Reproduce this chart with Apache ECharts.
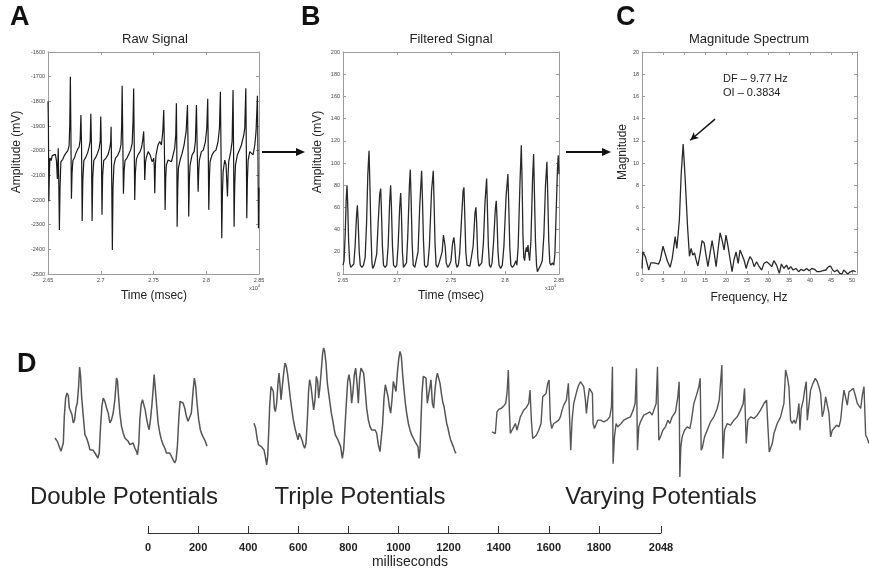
<!DOCTYPE html>
<html><head><meta charset="utf-8">
<script src="https://cdn.jsdelivr.net/npm/echarts@6/dist/echarts.min.js"></script>
<style>html,body{margin:0;padding:0;background:#fff}#c{width:869px;height:573px}</style>
</head><body><div id="c"></div>
<script>
// ---- Panel A: raw signal [time ms, amplitude mV]
const rawSignal = [[26500,-1800],[26504,-1900],[26508,-2205],[26513,-2090],[26518,-2030],[26530,-2040],[26540,-2020],[26555,-2025],[26570,-2015],[26580,-2040],[26589,-2115],[26597,-1990],[26603,-2150],[26608,-2322],[26614,-2150],[26622,-2045],[26640,-2035],[26655,-2020],[26670,-2010],[26688,-2000],[26700,-1980],[26706,-1900],[26712,-1700],[26717,-1920],[26722,-2195],[26728,-2090],[26736,-2040],[26750,-2030],[26765,-2010],[26780,-1995],[26795,-1985],[26805,-1955],[26812,-1855],[26818,-1980],[26824,-2285],[26830,-2120],[26840,-2040],[26860,-2025],[26875,-2010],[26890,-1985],[26900,-1960],[26906,-1850],[26912,-1980],[26918,-2285],[26924,-2110],[26934,-2040],[26955,-2025],[26970,-2010],[26985,-1990],[26995,-1960],[27000,-1862],[27006,-1990],[27012,-2260],[27018,-2100],[27028,-2040],[27050,-2030],[27070,-2015],[27085,-1990],[27094,-1965],[27098,-1903],[27104,-2120],[27110,-2403],[27116,-2150],[27125,-2060],[27140,-2030],[27160,-2020],[27180,-2000],[27192,-1975],[27198,-1900],[27203,-1737],[27209,-1960],[27215,-2175],[27222,-2080],[27230,-2040],[27248,-2030],[27265,-2015],[27285,-1995],[27298,-1970],[27306,-1880],[27312,-1748],[27317,-1960],[27322,-2200],[27328,-2090],[27338,-2035],[27355,-2015],[27372,-2005],[27388,-1985],[27400,-1950],[27407,-1922],[27412,-2000],[27417,-2119],[27424,-2050],[27430,-2031],[27449,-2004],[27468,-2017],[27487,-2045],[27502,-2031],[27507,-2060],[27512,-2173],[27518,-2060],[27524,-2017],[27543,-1977],[27559,-1963],[27575,-1977],[27588,-1923],[27597,-1835],[27603,-1980],[27610,-2240],[27616,-2110],[27622,-2058],[27638,-2038],[27654,-2038],[27670,-2045],[27686,-2017],[27701,-1990],[27711,-1936],[27717,-1808],[27721,-2000],[27724,-2308],[27730,-2150],[27736,-2071],[27752,-2038],[27771,-2011],[27790,-1977],[27809,-1923],[27822,-1815],[27828,-2000],[27834,-2267],[27840,-2120],[27847,-2058],[27866,-2017],[27885,-2004],[27897,-1963],[27907,-1815],[27914,-1990],[27923,-2166],[27929,-2080],[27935,-2038],[27954,-2004],[27973,-1997],[27992,-1963],[28005,-1909],[28014,-1790],[28019,-2000],[28024,-2240],[28030,-2110],[28036,-2045],[28055,-2017],[28074,-2004],[28093,-1997],[28112,-1963],[28125,-1909],[28134,-1761],[28140,-2000],[28147,-2355],[28153,-2180],[28160,-2085],[28175,-2038],[28188,-2058],[28194,-2120],[28201,-2186],[28207,-2100],[28213,-2045],[28232,-2004],[28245,-1963],[28254,-1754],[28259,-2000],[28264,-2308],[28270,-2140],[28277,-2058],[28295,-2017],[28315,-1997],[28333,-1977],[28356,-1936],[28365,-1909],[28375,-1747],[28380,-2000],[28384,-2274],[28390,-2120],[28397,-2038],[28413,-2004],[28428,-2011],[28444,-2017],[28460,-1977],[28472,-1923],[28485,-1777],[28490,-2000],[28495,-2315],[28500,-2150]];

// ---- Panel B: filtered signal [time ms, amplitude mV]
const filteredSignal = [[26500,8],[26510,12],[26520,35],[26530,68],[26537,80],[26543,65],[26552,30],[26562,10],[26572,6],[26590,6],[26600,9],[26612,25],[26625,52],[26633,62],[26640,48],[26650,20],[26660,8],[26675,6],[26690,8],[26705,15],[26718,45],[26730,90],[26741,111],[26748,85],[26758,40],[26768,10],[26775,5],[26790,8],[26800,9],[26812,18],[26825,45],[26840,72],[26849,77],[26855,60],[26865,25],[26875,8],[26890,6],[26905,8],[26918,25],[26932,65],[26941,80],[26948,62],[26958,25],[26968,8],[26985,6],[26998,8],[27010,25],[27025,60],[27034,73],[27040,58],[27050,20],[27060,6],[27075,6],[27088,10],[27100,35],[27115,80],[27123,94],[27130,70],[27140,28],[27150,8],[27165,6],[27180,7],[27195,20],[27210,60],[27228,93],[27235,70],[27245,30],[27255,8],[27270,6],[27285,8],[27300,25],[27320,75],[27336,93],[27342,70],[27352,28],[27362,8],[27375,6],[27390,10],[27405,9],[27418,20],[27430,35],[27438,36],[27446,25],[27456,10],[27470,6],[27485,8],[27500,12],[27515,28],[27527,33],[27535,25],[27545,10],[27555,6],[27568,8],[27580,18],[27595,45],[27612,75],[27620,78],[27627,55],[27637,20],[27648,8],[27660,7],[27675,7],[27690,8],[27705,25],[27722,55],[27731,60],[27738,45],[27748,15],[27758,7],[27770,6],[27785,10],[27800,28],[27815,65],[27830,86],[27837,60],[27846,25],[27856,8],[27868,6],[27880,10],[27895,30],[27910,58],[27919,66],[27926,50],[27935,20],[27945,8],[27960,5],[27975,8],[27990,25],[28010,70],[28027,90],[28034,65],[28044,25],[28054,8],[28068,6],[28085,8],[28100,12],[28110,8],[28122,25],[28138,80],[28151,116],[28158,85],[28166,35],[28174,15],[28182,12],[28190,20],[28198,24],[28205,20],[28213,26],[28220,18],[28228,12],[28240,30],[28255,85],[28265,108],[28272,75],[28282,30],[28292,8],[28300,2],[28315,5],[28330,8],[28345,12],[28360,35],[28375,80],[28388,101],[28395,75],[28405,30],[28415,10],[28425,8],[28440,10],[28452,8],[28462,18],[28475,60],[28486,95],[28493,107],[28500,90]];

// ---- Panel C: magnitude spectrum [frequency Hz, magnitude]
const spectrum = [[0,0.5],[0.2,2.0],[0.8,1.56],[1.6,0.36],[2.1,1.0],[2.8,1.0],[3.4,0.96],[3.95,0.9],[4.35,1.26],[5.0,2.5],[5.5,1.86],[6.1,1.1],[6.7,0.6],[7.2,1.4],[7.9,3.36],[8.3,2.3],[8.9,4.86],[9.34,9.06],[9.8,11.7],[10.3,8.46],[10.85,4.26],[11.3,1.6],[11.7,2.3],[12.1,1.7],[12.5,1.9],[12.9,1.26],[13.3,0.72],[13.85,1.86],[14.3,3.0],[14.8,2.8],[15.3,1.56],[15.7,0.66],[16.2,1.86],[16.7,3.0],[17.2,1.86],[17.65,0.66],[18.1,2.16],[18.6,3.7],[19.1,3.0],[19.55,2.16],[20.0,3.5],[20.5,2.46],[21.0,1.26],[21.45,0.21],[21.9,1.26],[22.4,2.0],[22.9,0.96],[23.35,2.16],[23.8,2.0],[24.3,1.26],[24.8,0.5],[25.25,1.1],[25.7,1.56],[26.2,1.3],[26.7,0.66],[27.3,1.1],[27.9,0.66],[28.5,0.36],[29.05,0.96],[29.7,1.1],[30.3,0.9],[30.9,0.66],[31.4,1.2],[32.05,0.8],[32.7,0.06],[33.2,0.9],[33.8,0.5],[34.4,0.8],[34.9,0.42],[35.4,0.66],[36.0,0.36],[36.65,0.5],[37.3,0.21],[37.9,0.42],[38.55,0.3],[39.2,0.5],[39.8,0.3],[40.45,0.5],[41.1,0.42],[41.7,0.21],[42.35,0.21],[43.1,0.3],[43.8,0.36],[44.4,0.66],[44.9,0.72],[45.4,0.36],[45.9,0.21],[46.5,0.36],[47.1,0.06],[47.6,0.0],[48.05,0.36],[48.5,0.2],[49.0,0.0],[49.6,0.2],[50.3,0.3],[50.9,0.2]];
const dfText = 'DF – 9.77 Hz';
const oiText = 'OI – 0.3834';

// ---- Panel D traces [sample, amplitude mV]
const doublePot = [[0,1.25],[7,1.15],[13,1.10],[18,0.85],[21,0.82],[25,1.10],[28,1.90],[32,2.45],[36,2.60],[40,2.52],[43,2.15],[47,2.05],[51,1.95],[55,1.70],[59,1.80],[63,2.15],[67,2.30],[71,2.80],[74,3.38],[77,3.10],[80,2.50],[85,1.90],[90,1.35],[95,1.25],[100,1.10],[105,0.90],[110,0.85],[115,0.88],[120,0.80],[125,0.75],[129,0.65],[133,0.80],[137,1.60],[141,2.20],[145,2.45],[150,2.35],[155,2.15],[160,2.00],[165,1.70],[170,1.80],[175,2.00],[180,2.40],[185,3.05],[188,2.95],[191,2.50],[195,2.00],[200,1.60],[205,1.40],[210,1.25],[215,1.20],[220,1.15],[225,1.05],[230,1.00],[235,1.10],[240,0.95],[245,0.85],[248,0.75],[252,1.10],[255,1.80],[259,2.25],[263,2.40],[267,2.35],[271,2.10],[275,1.85],[280,1.60],[283,1.50],[287,1.80],[291,2.20],[295,2.70],[298,3.15],[301,2.80],[305,2.30],[310,1.70],[315,1.40],[320,1.20],[325,1.05],[330,0.95],[335,0.80],[340,0.75],[345,0.80],[350,0.75],[355,0.60],[360,0.50],[364,0.60],[368,1.00],[372,1.80],[376,2.35],[380,2.40],[385,2.30],[390,2.15],[395,1.90],[400,1.75],[405,1.70],[410,2.00],[415,2.65],[419,3.05],[423,2.80],[427,2.30],[432,1.80],[437,1.50],[442,1.35],[447,1.25],[452,1.15],[457,1.00]];
const triplePot = [[0,1.70],[5,1.55],[10,1.20],[14,1.05],[18,1.10],[22,1.00],[26,0.95],[30,0.90],[34,0.70],[38,0.45],[41,0.70],[44,1.40],[47,2.20],[51,2.80],[55,2.85],[58,2.65],[61,2.15],[64,2.05],[68,2.30],[72,2.90],[75,3.20],[78,2.85],[81,2.40],[85,2.80],[89,3.20],[93,3.50],[97,3.40],[101,3.15],[105,2.80],[109,2.45],[113,2.15],[118,1.80],[123,1.55],[128,1.35],[132,1.20],[136,1.40],[140,1.35],[144,1.20],[148,1.05],[152,0.95],[156,1.10],[160,1.80],[164,2.70],[167,3.00],[171,2.80],[175,2.45],[179,2.10],[183,2.40],[187,3.10],[191,2.95],[194,2.45],[198,2.80],[202,3.30],[206,3.80],[209,3.95],[212,3.85],[216,3.50],[220,2.90],[224,2.60],[228,2.30],[232,2.00],[236,1.80],[240,1.55],[244,1.35],[248,1.30],[252,1.20],[256,1.15],[260,1.00],[265,0.65],[269,0.90],[273,1.60],[277,2.30],[281,2.95],[285,3.15],[289,2.90],[293,2.30],[297,2.65],[301,3.15],[305,3.35],[309,2.90],[313,2.30],[317,3.05],[321,3.35],[325,3.30],[329,3.20],[333,2.75],[338,2.15],[343,1.80],[348,1.60],[353,1.50],[358,1.55],[363,1.50],[368,1.40],[373,1.05],[378,0.85],[382,0.80],[386,1.70],[390,2.45],[394,2.85],[398,2.80],[402,2.50],[406,2.20],[410,2.00],[414,2.40],[418,2.95],[422,2.80],[426,2.65],[430,3.20],[434,3.60],[438,3.85],[442,3.70],[446,3.15],[450,2.70],[454,2.30],[458,2.00],[463,1.70],[468,1.50],[473,1.35],[478,1.25],[483,1.15],[488,1.10],[492,1.00],[495,0.65],[498,0.90],[501,1.80],[504,2.60],[508,3.10],[512,3.15],[516,3.05],[520,2.30],[524,2.25],[528,2.80],[531,3.00],[535,2.30],[539,2.15],[543,2.70],[547,3.05],[550,3.20],[554,3.05],[558,2.90],[562,2.60],[566,2.35],[570,2.20],[574,1.95],[578,1.70],[582,1.55],[586,1.35],[590,1.20],[594,1.25],[598,1.00],[603,0.85],[606,0.80]];
const varyingPot = [[0,1.45],[5,1.50],[10,1.40],[15,2.05],[20,2.12],[27,2.15],[35,2.22],[41,2.30],[45,2.60],[49,3.30],[52,2.10],[55,1.40],[60,1.35],[65,1.60],[70,1.70],[75,1.50],[80,1.70],[85,1.90],[90,2.00],[95,2.10],[103,2.18],[110,2.30],[114,2.70],[118,1.80],[122,1.25],[127,1.30],[133,1.35],[140,1.50],[147,1.70],[152,2.50],[157,2.45],[162,2.60],[167,2.90],[171,3.00],[175,1.80],[179,1.55],[185,1.70],[193,1.75],[200,1.80],[205,1.90],[210,2.10],[215,2.25],[223,2.40],[229,2.90],[233,2.95],[236,0.90],[240,1.80],[245,2.30],[250,2.50],[255,2.70],[260,2.85],[265,2.95],[270,2.95],[275,2.80],[280,2.40],[283,2.00],[287,2.40],[292,2.75],[297,2.80],[301,2.60],[303,1.70],[307,1.55],[312,1.60],[317,1.80],[325,1.80],[335,1.75],[345,1.80],[353,1.90],[358,2.20],[361,3.40],[363,0.50],[367,1.30],[372,1.70],[377,1.60],[382,1.55],[387,1.70],[395,1.80],[405,1.85],[415,1.90],[423,2.10],[429,2.30],[433,3.35],[436,0.90],[440,1.60],[445,1.75],[455,1.95],[465,2.00],[473,2.05],[480,1.95],[485,2.10],[492,2.30],[496,3.40],[500,1.20],[505,1.30],[512,1.50],[520,1.60],[527,1.80],[533,1.70],[540,1.90],[550,2.05],[557,2.50],[561,2.95],[563,0.10],[566,1.00],[570,1.30],[577,1.50],[585,1.60],[593,1.55],[598,1.80],[605,2.30],[613,2.55],[620,2.80],[624,3.05],[627,0.90],[631,1.00],[637,1.30],[645,1.50],[655,1.75],[665,1.90],[675,2.15],[681,2.40],[685,2.35],[689,3.45],[692,0.65],[697,1.50],[705,1.70],[715,1.65],[725,1.80],[735,1.90],[745,2.10],[753,2.30],[757,2.75],[762,1.10],[767,1.80],[775,1.90],[785,1.85],[795,1.95],[805,2.10],[815,2.30],[823,2.40],[827,1.60],[831,0.85],[835,0.80],[840,1.10],[845,1.40],[855,1.70],[865,1.90],[875,2.30],[880,3.30],[885,3.10],[890,2.80],[895,1.80],[900,1.70],[905,1.80],[910,1.70],[915,1.90],[920,2.30],[923,1.50],[927,2.15],[933,2.40],[938,2.75],[942,2.95],[945,1.80],[950,1.80],[955,2.70],[962,2.90],[969,3.05],[975,2.95],[980,2.80],[985,2.60],[990,1.90],[995,2.10],[1000,2.50],[1005,2.55],[1010,2.00],[1015,1.30],[1020,1.50],[1025,1.55],[1033,1.65],[1040,1.60],[1045,1.80],[1050,2.30],[1055,2.70],[1060,2.75],[1065,2.25],[1070,2.65],[1077,2.70],[1083,2.75],[1090,2.50],[1095,2.30],[1100,2.25],[1105,2.15],[1110,2.55],[1115,2.80],[1120,1.35],[1125,1.25],[1130,1.10]];
const potentialLabels = ['Double Potentials','Triple Potentials','Varying Potentials'];

// ---- Scale bar (milliseconds)
const scaleTicks = [0,200,400,600,800,1000,1200,1400,1600,1800,2048];

const FONT = 'Liberation Sans, Arial, sans-serif';
const chart = echarts.init(document.getElementById('c'), null, {renderer:'canvas'});

const frame = '#9a9a9a';
const plain = v => String(v);
function mainX(grid, min, max, interval, fmt, show, maxLabel) {
  return {type:'value', gridIndex:grid, min, max, interval, position: show ? 'bottom' : 'top',
    axisLine:{show:true, onZero:false, lineStyle:{color:frame, width:1}},
    axisTick:{show:true, inside:true, length:3, lineStyle:{color:frame}},
    axisLabel:{show:show, fontSize:5.5, color:'#444', margin:3, fontFamily:FONT, formatter:fmt || plain,
      showMinLabel:true, showMaxLabel:maxLabel !== false},
    splitLine:{show:false}};
}
function mainY(grid, min, max, interval, show) {
  return {type:'value', gridIndex:grid, min, max, interval, position: show ? 'left' : 'right',
    axisLine:{show:true, onZero:false, lineStyle:{color:frame, width:1}},
    axisTick:{show:true, inside:true, length:3, lineStyle:{color:frame}},
    axisLabel:{show:show, fontSize:5.5, color:'#444', margin:3, fontFamily:FONT, formatter:plain,
      showMinLabel:true, showMaxLabel:true},
    splitLine:{show:false}};
}
function hidden(grid) {
  return {type:'value', gridIndex:grid, min:'dataMin', max:'dataMax', show:false, scale:true};
}
const tfmt = v => String(+(v/10000).toFixed(3));

const grids = [
  {left:48, top:52, width:211, height:222},
  {left:343, top:52, width:216, height:222},
  {left:642, top:52, width:215, height:222},
  {left:55, top:367, width:152, height:96},
  {left:254, top:348, width:202, height:117},
  {left:492, top:365, width:377, height:112},
  {left:148, top:500, width:513, height:33}
];

const xAxis = [
  mainX(0, 26500, 28500, 500, tfmt, true),
  mainX(1, 26500, 28500, 500, tfmt, true),
  mainX(2, 0, 51.2, 5, null, true, false),
  hidden(3), hidden(4), hidden(5),
  {type:'value', gridIndex:6, min:0, max:2048, interval:200, position:'bottom',
   axisLine:{show:true, lineStyle:{color:'#333', width:1}},
   axisTick:{show:true, inside:true, length:7, lineStyle:{color:'#333', width:1}, customValues:scaleTicks},
   axisLabel:{show:true, fontSize:11, fontWeight:'bold', color:'#222', margin:9, fontFamily:FONT, formatter:plain,
     customValues:scaleTicks, showMinLabel:true, showMaxLabel:true},
   splitLine:{show:false}},
  mainX(0, 26500, 28500, 500, null, false),
  mainX(1, 26500, 28500, 500, null, false),
  mainX(2, 0, 51.2, 5, null, false)
];
const yAxis = [
  mainY(0, -2500, -1600, 100, true),
  mainY(1, 0, 200, 20, true),
  mainY(2, 0, 20, 2, true),
  hidden(3), hidden(4), hidden(5),
  {type:'value', gridIndex:6, min:0, max:1, show:false},
  mainY(0, -2500, -1600, 100, false),
  mainY(1, 0, 200, 20, false),
  mainY(2, 0, 20, 2, false)
];

const lineBase = {type:'line', showSymbol:false, symbol:'none', silent:true};
const series = [
  Object.assign({}, lineBase, {xAxisIndex:0, yAxisIndex:0, data:rawSignal, lineStyle:{color:'#1a1a1a', width:1.2}}),
  Object.assign({}, lineBase, {xAxisIndex:1, yAxisIndex:1, data:filteredSignal, lineStyle:{color:'#2a2a2a', width:1.3}}),
  Object.assign({}, lineBase, {xAxisIndex:2, yAxisIndex:2, data:spectrum, lineStyle:{color:'#2a2a2a', width:1.3},
    markLine:{silent:true, symbol:['none','arrow'], symbolSize:[6,8], label:{show:false},
      lineStyle:{color:'#111', width:1.4, type:'solid'},
      data:[[{coord:[17.4,13.95]},{coord:[11.5,12.05]}]]}}),
  Object.assign({}, lineBase, {xAxisIndex:3, yAxisIndex:3, data:doublePot, lineStyle:{color:'#555', width:1.5}}),
  Object.assign({}, lineBase, {xAxisIndex:4, yAxisIndex:4, data:triplePot, lineStyle:{color:'#555', width:1.5}}),
  Object.assign({}, lineBase, {xAxisIndex:5, yAxisIndex:5, data:varyingPot, lineStyle:{color:'#555', width:1.4}}),
  Object.assign({}, lineBase, {xAxisIndex:6, yAxisIndex:6, data:[]})
];

function txt(x, y, text, size, opts) {
  opts = opts || {};
  return {type:'text', x, y, rotation: opts.rot || 0, silent:true,
    style:{text, fill: opts.color || '#222', font: (opts.bold ? 'bold ' : '') + size + 'px ' + FONT,
      align: opts.align || 'center', verticalAlign: opts.va || 'middle'}};
}
const graphic = [
  txt(10, 18, 'A', 27, {bold:true, align:'left', color:'#111'}),
  txt(301, 18, 'B', 27, {bold:true, align:'left', color:'#111'}),
  txt(616, 18, 'C', 27, {bold:true, align:'left', color:'#111'}),
  txt(17, 365, 'D', 27, {bold:true, align:'left', color:'#111'}),
  txt(155, 39, 'Raw Signal', 13),
  txt(451, 39, 'Filtered Signal', 13),
  txt(749, 39, 'Magnitude Spectrum', 13),
  txt(17, 152, 'Amplitude (mV)', 12, {rot:Math.PI/2}),
  txt(318, 152, 'Amplitude (mV)', 12, {rot:Math.PI/2}),
  txt(623, 152, 'Magnitude', 12, {rot:Math.PI/2}),
  txt(154, 296, 'Time (msec)', 12),
  txt(451, 296, 'Time (msec)', 12),
  txt(749, 298, 'Frequency, Hz', 12),
  {type:'text', x:249, y:288, silent:true, style:{text:'x10{s|4}', fill:'#444', font:'5.5px '+FONT, align:'left', verticalAlign:'middle', rich:{s:{fontSize:4, verticalAlign:'top', padding:[0,0,4,0]}}}},
  {type:'text', x:545, y:288, silent:true, style:{text:'x10{s|4}', fill:'#444', font:'5.5px '+FONT, align:'left', verticalAlign:'middle', rich:{s:{fontSize:4, verticalAlign:'top', padding:[0,0,4,0]}}}},
  txt(723, 79, dfText, 11, {align:'left'}),
  txt(723, 93, oiText, 11, {align:'left'}),
  txt(124, 497, potentialLabels[0], 24),
  txt(360, 497, potentialLabels[1], 24),
  txt(661, 497, potentialLabels[2], 24),
  txt(410, 562, 'milliseconds', 14),
  {type:'line', silent:true, shape:{x1:262, y1:152, x2:298, y2:152}, style:{stroke:'#111', lineWidth:2}},
  {type:'polygon', silent:true, shape:{points:[[296,148],[305,152],[296,156]]}, style:{fill:'#111'}},
  {type:'line', silent:true, shape:{x1:566, y1:152, x2:604, y2:152}, style:{stroke:'#111', lineWidth:2}},
  {type:'polygon', silent:true, shape:{points:[[602,148],[611,152],[602,156]]}, style:{fill:'#111'}}
];

chart.setOption({animation:false, backgroundColor:'#fff', grid:grids, xAxis, yAxis, series, graphic});
</script></body></html>
